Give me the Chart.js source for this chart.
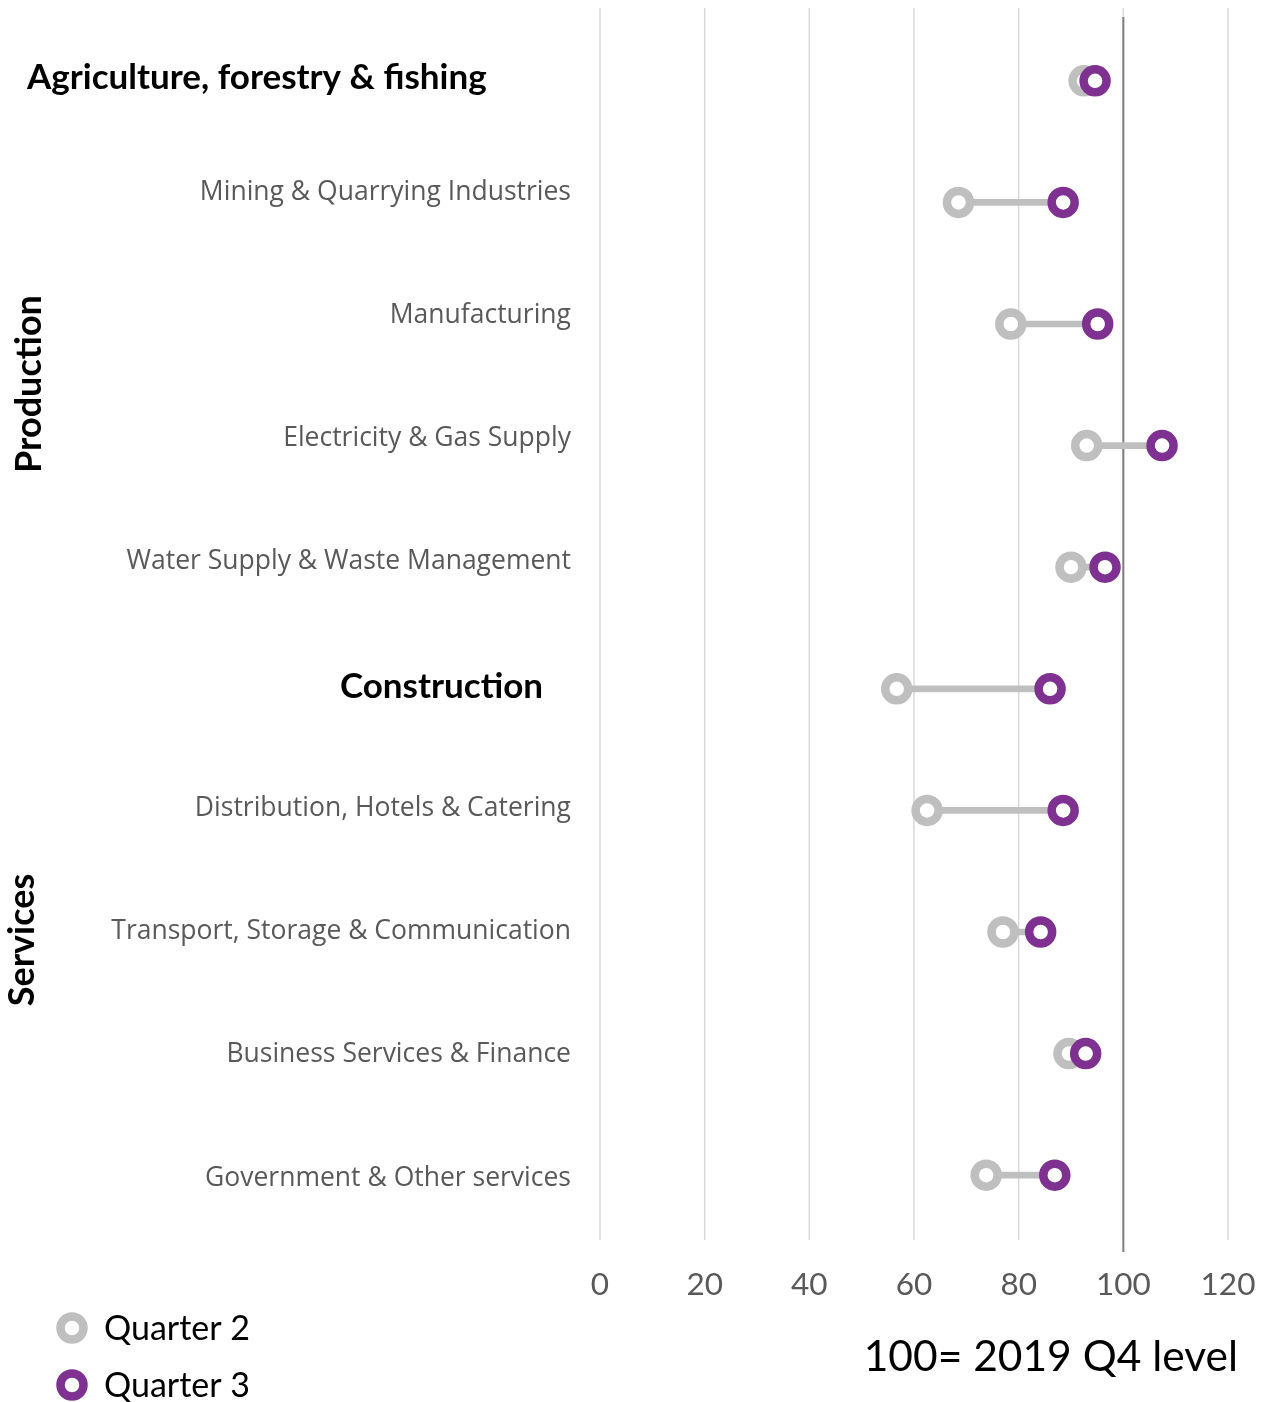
<!DOCTYPE html>
<html><head><meta charset="utf-8">
<script src="https://cdn.jsdelivr.net/npm/chart.js@4"></script>
<style>html,body{margin:0;padding:0;background:#fff;overflow:hidden}canvas{display:block}</style>
</head><body>
<canvas id="c" width="1265" height="1402"></canvas>
<script>
const categories = [
  'Agriculture, forestry & fishing',
  'Mining & Quarrying Industries',
  'Manufacturing',
  'Electricity & Gas Supply',
  'Water Supply & Waste Management',
  'Construction',
  'Distribution, Hotels & Catering',
  'Transport, Storage & Communication',
  'Business Services & Finance',
  'Government & Other services'
];
const quarter2 = [92.5, 68.5, 78.5, 93, 90, 56.7, 62.5, 77, 89.6, 73.8];
const quarter3 = [94.6, 88.5, 95.1, 107.4, 96.5, 86, 88.5, 84.2, 92.8, 86.9];
const xTicks = [0, 20, 40, 60, 80, 100, 120];
const groupLabels = ['Production', 'Services'];
const legendLabels = ['Quarter 2', 'Quarter 3'];
const axisNote = '100= 2019 Q4 level';
const referenceValue = 100;

const GRAY = '#bfbfbf', PURPLE = '#7e3191';
const CAL = 'Lato, "Open Sans", sans-serif';
const SEG = '"Open Sans", sans-serif';

// label styles (index -> style)
const boldIdx = {0: {align: 'left', x: 27, y: 78}, 5: {align: 'right', x: 543, y: 687}};

const decor = {
  id: 'decor',
  beforeDatasetsDraw(chart) {
    const {ctx, scales: {x}} = chart;
    ctx.save();
    ctx.strokeStyle = '#d9d9d9';
    ctx.lineWidth = 1.5;
    xTicks.forEach(v => {
      const px = x.getPixelForValue(v);
      ctx.beginPath(); ctx.moveTo(px, 8); ctx.lineTo(px, 1240); ctx.stroke();
    });
    const rp = x.getPixelForValue(referenceValue);
    ctx.strokeStyle = '#7f7f7f';
    ctx.lineWidth = 2;
    ctx.beginPath(); ctx.moveTo(rp, 17); ctx.lineTo(rp, 1252); ctx.stroke();
    ctx.restore();
  },
  afterDraw(chart) {
    const {ctx} = chart;
    ctx.save();
    ctx.textBaseline = 'middle';
    categories.forEach((c, i) => {
      const b = boldIdx[i];
      if (b) {
        ctx.font = 'bold 35px ' + CAL;
        ctx.fillStyle = '#000';
        ctx.textAlign = b.align;
        ctx.fillText(c, b.x, b.y);
      } else {
        ctx.font = '26.5px ' + SEG;
        ctx.fillStyle = '#595959';
        ctx.textAlign = 'right';
        ctx.fillText(c, 571, 192 + (i - 1) * 123.25);
      }
    });
    // group labels (vertical)
    ctx.font = 'bold 36px ' + CAL;
    ctx.fillStyle = '#000';
    ctx.textAlign = 'center';
    [[groupLabels[0], 29, 384], [groupLabels[1], 22, 940]].forEach(([t, gx, gy]) => {
      ctx.save();
      ctx.translate(gx, gy);
      ctx.rotate(-Math.PI / 2);
      ctx.fillText(t, 0, 0);
      ctx.restore();
    });
    // legend
    [[legendLabels[0], GRAY, 1328], [legendLabels[1], PURPLE, 1385]].forEach(([t, col, ly]) => {
      ctx.beginPath();
      ctx.arc(72, ly, 11.5, 0, Math.PI * 2);
      ctx.fillStyle = '#fff'; ctx.fill();
      ctx.lineWidth = 8.5; ctx.strokeStyle = col; ctx.stroke();
      ctx.fillStyle = '#000';
      ctx.font = '34px ' + CAL;
      ctx.textAlign = 'left';
      ctx.fillText(t, 104, ly + 1);
    });
    // note
    ctx.font = '42.5px ' + CAL;
    ctx.textAlign = 'right';
    ctx.fillText(axisNote, 1238, 1357);
    ctx.restore();
  }
};

new Chart(document.getElementById('c'), {
  type: 'bar',
  data: {
    labels: categories,
    datasets: [
      {
        type: 'line', label: legendLabels[1], data: quarter3, showLine: false, order: 0,
        pointRadius: 11.5, pointHoverRadius: 11.5, pointBorderWidth: 8.5, pointHoverBorderWidth: 8.5,
        pointBorderColor: PURPLE, pointBackgroundColor: '#fff', borderColor: PURPLE
      },
      {
        type: 'line', label: legendLabels[0], data: quarter2, showLine: false, order: 1,
        pointRadius: 11.5, pointHoverRadius: 11.5, pointBorderWidth: 8.5, pointHoverBorderWidth: 8.5,
        pointBorderColor: GRAY, pointBackgroundColor: '#fff', borderColor: GRAY
      },
      {
        type: 'bar', label: 'range', order: 2,
        data: categories.map((_, i) => [quarter2[i], quarter3[i]]),
        backgroundColor: GRAY, barThickness: 6, borderWidth: 0, borderSkipped: false
      }
    ]
  },
  options: {
    indexAxis: 'y',
    responsive: false,
    animation: false,
    devicePixelRatio: 1,
    layout: {padding: {left: 600, right: 37, top: 15, bottom: 0}},
    plugins: {legend: {display: false}, tooltip: {enabled: false}},
    scales: {
      x: {
        type: 'linear', min: 0, max: 120,
        ticks: {stepSize: 20, color: '#595959', font: {family: CAL, size: 31.5}, padding: 30},
        grid: {display: false, drawTicks: false},
        border: {display: false},
        afterFit(s) { s.height = 166; s.paddingLeft = 0; s.paddingRight = 0; }
      },
      y: {type: 'category', display: false, offset: true}
    }
  },
  plugins: [decor]
});
</script>
</body></html>
